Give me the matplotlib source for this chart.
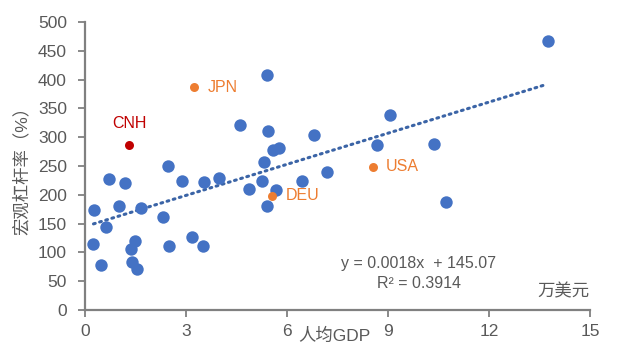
import numpy as np
import matplotlib
matplotlib.use("Agg")
import matplotlib.pyplot as plt

plt.rcParams['font.family'] = ['Liberation Sans', 'Noto Sans CJK SC', 'DejaVu Sans']

# 人均GDP（万美元）, 宏观杠杆率（%）
gdp_other = [13.74, 9.05, 6.79, 8.66, 10.36, 7.19, 6.45, 5.41, 4.59, 5.43, 5.57, 5.77,
             5.31, 2.47, 0.71, 1.19, 0.28, 1.01, 1.67, 0.62, 2.31, 2.87, 3.52, 3.98,
             4.87, 5.26, 5.68, 5.40, 0.25, 0.48, 1.49, 1.37, 1.40, 1.55, 2.50, 3.18,
             3.50, 10.72]
lev_other = [467, 339, 304, 286, 288, 240, 224, 408, 321, 311, 278, 282,
             257, 250, 227, 220, 174, 181, 177, 144, 161, 224, 222, 229,
             210, 224, 208, 181, 115, 78, 120, 106, 83, 71, 111, 127,
             111, 188]

hl_names = ['JPN', 'USA', 'DEU']
hl_gdp = [3.23, 8.54, 5.56]
hl_lev = [387, 249, 198]

cn_gdp = 1.31
cn_lev = 287

slope = 0.0018 * 10000  # per 万美元
intercept = 145.07

fig = plt.figure(figsize=(6.3, 3.54), dpi=100)
ax = fig.add_axes([0.135, 0.124, 0.802, 0.814])

ax.scatter(gdp_other, lev_other, s=80, color='#4472C4', zorder=3, linewidths=0)
ax.scatter(hl_gdp, hl_lev, s=42, color='#ED7D31', zorder=3, linewidths=0)
ax.scatter([cn_gdp], [cn_lev], s=42, color='#C00000', zorder=3, linewidths=0)

xs = np.array([0.25, 13.6])
ax.plot(xs, slope * xs + intercept, color='#3B64A6', lw=2.2,
        linestyle=(0, (0.6, 1.5)), dash_capstyle='round', zorder=2)

for n, gx, gy in zip(hl_names, hl_gdp, hl_lev):
    ax.text(gx + 0.4, gy, n, color='#ED7D31', fontsize=11.5, va='center', ha='left')
ax.text(cn_gdp, cn_lev + 37, 'CNH', color='#C00000', fontsize=11.5, va='center', ha='center')

ax.text(9.9, 81, 'y = 0.0018x  + 145.07', color='#595959', fontsize=11.5, ha='center', va='center')
ax.text(9.9, 47, 'R² = 0.3914', color='#595959', fontsize=11.5, ha='center', va='center')
ax.text(14.97, 32, '万美元', color='#595959', fontsize=12.5, ha='right', va='center')

ax.set_xlim(0, 15)
ax.set_ylim(0, 500)
ax.set_xticks([0, 3, 6, 9, 12, 15])
ax.set_yticks(range(0, 501, 50))

for s in ['top', 'right']:
    ax.spines[s].set_visible(False)
for s in ['left', 'bottom']:
    ax.spines[s].set_color('#808080')
    ax.spines[s].set_linewidth(1.6)
ax.tick_params(colors='#808080', labelcolor='#595959', labelsize=12.5, width=1.3, length=5)
ax.tick_params(axis='y', pad=8)
ax.tick_params(axis='x', pad=5)

ax.annotate('人均GDP', xy=(7.4, -0.088), xycoords=('data', 'axes fraction'),
            fontsize=12.5, color='#595959', ha='center', va='center')
ax.set_ylabel('宏观杠杆率（%）', fontsize=12.5, color='#595959', labelpad=6)

fig.savefig('out.png', dpi=100)
